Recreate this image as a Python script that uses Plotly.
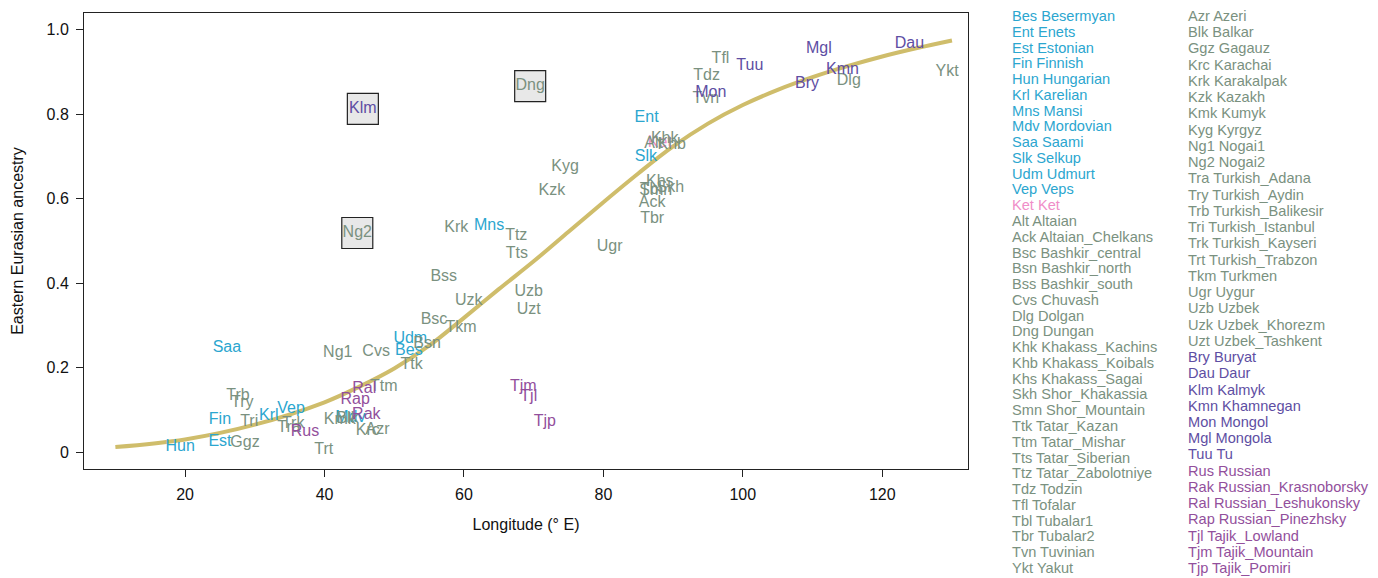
import plotly.graph_objects as go

# ---------------- data ----------------
codes = ["Bes","Ent","Est","Fin","Hun","Krl","Mns","Mdv","Saa","Slk","Udm","Vep",
         "Ket",
         "Alt","Ack","Bsc","Bsn","Bss","Cvs","Dlg","Dng","Khk","Khb","Khs","Skh","Smn",
         "Ttk","Ttm","Tts","Ttz","Tdz","Tfl","Tbl","Tbr","Tvn","Ykt",
         "Azr","Blk","Ggz","Krc","Krk","Kzk","Kmk","Kyg","Ng1","Ng2","Tra","Try","Trb",
         "Tri","Trk","Trt","Tkm","Ugr","Uzb","Uzk","Uzt",
         "Bry","Dau","Klm","Kmn","Mon","Mgl","Tuu",
         "Rus","Rak","Ral","Rap","Tjl","Tjm","Tjp"]
names = ["Besermyan","Enets","Estonian","Finnish","Hungarian","Karelian","Mansi","Mordovian",
         "Saami","Selkup","Udmurt","Veps",
         "Ket",
         "Altaian","Altaian_Chelkans","Bashkir_central","Bashkir_north","Bashkir_south","Chuvash",
         "Dolgan","Dungan","Khakass_Kachins","Khakass_Koibals","Khakass_Sagai","Shor_Khakassia",
         "Shor_Mountain","Tatar_Kazan","Tatar_Mishar","Tatar_Siberian","Tatar_Zabolotniye",
         "Todzin","Tofalar","Tubalar1","Tubalar2","Tuvinian","Yakut",
         "Azeri","Balkar","Gagauz","Karachai","Karakalpak","Kazakh","Kumyk","Kyrgyz","Nogai1",
         "Nogai2","Turkish_Adana","Turkish_Aydin","Turkish_Balikesir","Turkish_Istanbul",
         "Turkish_Kayseri","Turkish_Trabzon","Turkmen","Uygur","Uzbek","Uzbek_Khorezm",
         "Uzbek_Tashkent",
         "Buryat","Daur","Kalmyk","Khamnegan","Mongol","Mongola","Tu",
         "Russian","Russian_Krasnoborsky","Russian_Leshukonsky","Russian_Pinezhsky",
         "Tajik_Lowland","Tajik_Mountain","Tajik_Pomiri"]
groups = (["Uralic"] * 12 + ["Yeniseian"] + ["Turkic"] * 44 + ["Mongolic"] * 7 +
          ["IndoEuropean"] * 7)
longitude = [52.1, 86.2, 25.0, 25.0, 19.3, 32.0, 63.6, 43.7, 26.0, 86.1, 52.3, 35.2,
             88.1,
             87.2, 87.0, 55.7, 54.7, 57.1, 47.4, 115.2, 69.5, 88.8, 89.8, 88.1, 89.6, 87.5,
             52.5, 48.5, 67.6, 67.5, 94.8, 96.8, 86.8, 87.0, 94.7, 129.3,
             47.6, 43.3, 28.6, 46.2, 58.9, 72.6, 42.2, 74.5, 41.9, 44.7, 34.9, 28.2, 27.6,
             29.2, 35.5, 39.9, 59.6, 80.9, 69.3, 60.7, 69.3,
             109.2, 123.9, 45.5, 114.3, 95.4, 110.9, 101.0,
             37.2, 46.0, 45.7, 44.4, 69.3, 68.5, 71.6]
ancestry = [0.239, 0.791, 0.024, 0.076, 0.012, 0.085, 0.536, 0.081, 0.246, 0.699, 0.268, 0.102,
            0.732,
            0.730, 0.590, 0.313, 0.256, 0.415, 0.237, 0.879, 0.867, 0.742, 0.727, 0.640, 0.626,
            0.618, 0.206, 0.154, 0.469, 0.512, 0.891, 0.931, 0.621, 0.552, 0.836, 0.900,
            0.052, 0.078, 0.021, 0.050, 0.531, 0.618, 0.076, 0.675, 0.235, 0.519, 0.057, 0.116,
            0.133, 0.071, 0.066, 0.005, 0.294, 0.486, 0.379, 0.358, 0.336,
            0.872, 0.967, 0.813, 0.905, 0.851, 0.955, 0.915,
            0.047, 0.088, 0.149, 0.123, 0.130, 0.154, 0.071]
boxed = ["Klm", "Ng2", "Dng"]

# fitted curve
curve_x = [10, 20, 30, 40, 45, 50, 55, 60, 65, 70, 75, 80, 85, 90, 95, 100, 105, 110,
           115, 120, 125, 130]
curve_y = [0.012, 0.030, 0.065, 0.118, 0.155, 0.198, 0.252, 0.318, 0.386, 0.452, 0.522,
           0.592, 0.660, 0.724, 0.778, 0.822, 0.858, 0.888, 0.914, 0.937, 0.957, 0.975]

legend_col1 = codes[:36]
legend_col2 = codes[36:]

x_ticks = [20, 40, 60, 80, 100, 120]
y_ticks = [0, 0.2, 0.4, 0.6, 0.8, 1.0]
y_tick_labels = ["0", "0.2", "0.4", "0.6", "0.8", "1.0"]

# ---------------- style ----------------
colors = {"Uralic": "#2ba6cf", "Yeniseian": "#f08dc8", "Turkic": "#7a9180",
          "Mongolic": "#5e4ea3", "IndoEuropean": "#924f9c"}
FONT = "Liberation Sans, Arial, Helvetica, sans-serif"

fig = go.Figure()

fig.add_trace(go.Scatter(x=curve_x, y=curve_y, mode="lines", line_shape="spline",
                         line=dict(color="#cfbd6b", width=4), hoverinfo="skip",
                         showlegend=False))

bx = [longitude[codes.index(c)] for c in boxed]
by = [ancestry[codes.index(c)] for c in boxed]
fig.add_trace(go.Scatter(x=bx, y=by, mode="markers",
                         marker=dict(symbol="square", size=31, color="#e8e8e8",
                                     line=dict(color="#222222", width=1.2)),
                         hoverinfo="skip", showlegend=False))

for g in ["Yeniseian", "Uralic", "Turkic", "Mongolic", "IndoEuropean"]:
    idx = [i for i, gg in enumerate(groups) if gg == g]
    fig.add_trace(go.Scatter(x=[longitude[i] for i in idx], y=[ancestry[i] for i in idx],
                             text=[codes[i] for i in idx], mode="text",
                             textposition="middle center",
                             textfont=dict(family=FONT, size=16, color=colors[g]),
                             showlegend=False, name=g))

# page body has an 8px margin, so figure coords = page coords - 8
OFF = 8
W, H = 1378, 578
L, T = 84 - OFF, 13 - OFF
R, B = W - (968 - OFF), H - (469 - OFF)
pw, ph = W - L - R, H - T - B
ann = []
for lst, x0, dy in [(legend_col1, 1010, 15.77), (legend_col2, 1186, 16.24)]:
    for k, c in enumerate(lst):
        i = codes.index(c)
        py = 16 + k * dy - OFF
        ann.append(dict(x=(x0 - OFF - L) / pw, y=(H - B - py) / ph, xref="paper",
                        yref="paper", xanchor="left", yanchor="middle", showarrow=False,
                        text=f"{c} {names[i]}",
                        font=dict(family=FONT, size=14.6, color=colors[groups[i]])))

fig.update_layout(
    width=W, height=H, margin=dict(l=L, r=R, t=T, b=B, pad=0),
    plot_bgcolor="white", paper_bgcolor="white",
    font=dict(family=FONT, color="#111111"),
    annotations=ann, showlegend=False,
    xaxis=dict(range=[5.5, 132.3], tickvals=x_ticks, ticks="outside", ticklen=7,
               tickcolor="#222222", showline=True, linecolor="#222222", linewidth=1,
               mirror=True, showgrid=False, zeroline=False, ticklabelstandoff=4,
               tickfont=dict(size=16, family=FONT, color="#111111"),
               title=dict(text="Longitude (° E)", font=dict(size=16, family=FONT),
                          standoff=16)),
    yaxis=dict(range=[-0.04, 1.04], tickvals=y_ticks, ticktext=y_tick_labels,
               ticks="outside", ticklen=7, tickcolor="#222222", showline=True,
               linecolor="#222222", linewidth=1, mirror=True, showgrid=False,
               zeroline=False, ticklabelstandoff=4,
               tickfont=dict(size=16, family=FONT, color="#111111"),
               title=dict(text="Eastern Eurasian ancestry", font=dict(size=16, family=FONT),
                          standoff=18)),
)

fig.write_html("out.html")
